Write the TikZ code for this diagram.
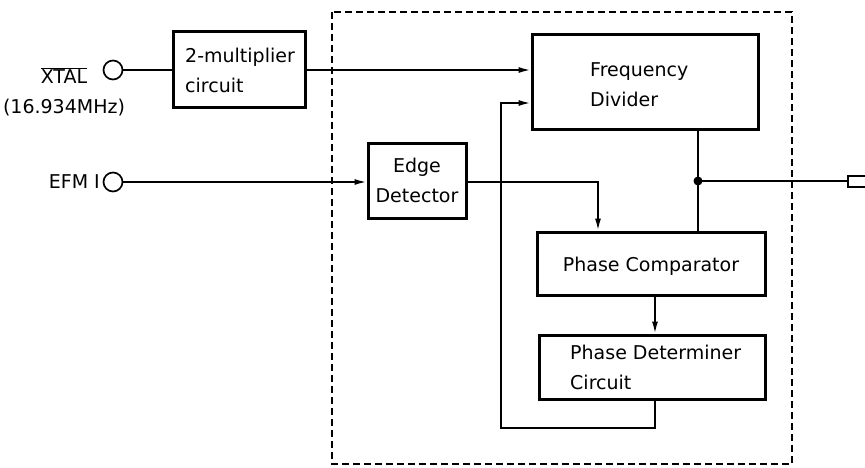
\documentclass[tikz,border=0pt]{standalone}
\usepackage{fontspec}
\setmainfont{DejaVu Sans}
\usetikzlibrary{arrows.meta}
\begin{document}
\begin{tikzpicture}[x=1pt,y=-1pt,
  font=\fontsize{19}{30}\selectfont,
  blk/.style={draw, line width=3pt, rectangle, inner sep=0pt},
  wire/.style={line width=1.7pt},
  arr/.style={wire, -{Latex[length=12pt,width=6pt]}},
  term/.style={draw, circle, line width=1.7pt, minimum size=19pt, inner sep=0pt},
  chipline/.style={line width=2pt, dash pattern=on 7pt off 4pt}
]
\useasboundingbox (0,0) rectangle (865,468);

% chip boundary
\draw[chipline] (332,12) rectangle (792,464);

% blocks
\node[blk, minimum width=132pt, minimum height=76pt] (mul) at (239,70) {};
\node[anchor=west, align=left, inner sep=0pt] at (185,70) {2-multiplier\\circuit};

\node[blk, minimum width=226pt, minimum height=95pt] (fd) at (645,82.5) {};
\node[anchor=west, align=left, inner sep=0pt] at (590,85) {Frequency\\Divider};

\node[blk, minimum width=98pt, minimum height=75pt] (ed) at (417,181) {};
\node[align=center, inner sep=0pt] at (417,180) {Edge\\Detector};

\node[blk, minimum width=228pt, minimum height=63pt] (pc) at (651,263.5) {};
\node[inner sep=0pt] at (651,266) {Phase Comparator};

\node[blk, minimum width=226pt, minimum height=64pt] (pd) at (652,367) {};
\node[anchor=west, align=left, inner sep=0pt] at (570,367) {Phase Determiner\\Circuit};

% input terminals
\node[term] (xt) at (113,70) {};
\node[align=center, inner sep=0pt] (xtl) at (64,92) {$\overline{\mbox{XTAL}}$\\(16.934MHz)};
\node[term] (efm) at (113,182) {};
\node[anchor=east, inner sep=0pt] (efml) at (100,182) {EFM I};

% coordinates
\coordinate (dot) at (698,181);
\coordinate (out) at (848,181);
\coordinate (fb) at (501,428);

% connectors
\draw[wire] (xt.east) -- (mul.west |- xt.east);
\draw[arr] (mul.east) -- (mul.east -| fd.west);
\draw[arr] (efm.east) -- (ed.west |- efm.east);
\draw[arr] (ed.east |- efm.east) -| (pc.north -| 598,0);
\draw[wire] (fd.south -| dot) -- (pc.north -| dot);
\fill (dot) circle (4.5pt);
\draw[wire] (dot) -- (out);
\draw[wire] (866,176) -| (848,187) -- (866,187);
\draw[arr] (pc.south -| 655,0) -- (pd.north -| 655,0);
\draw[arr] (pd.south -| 655,0) |- (fb) |- (fd.west |- 0,103);
\end{tikzpicture}
\end{document}
